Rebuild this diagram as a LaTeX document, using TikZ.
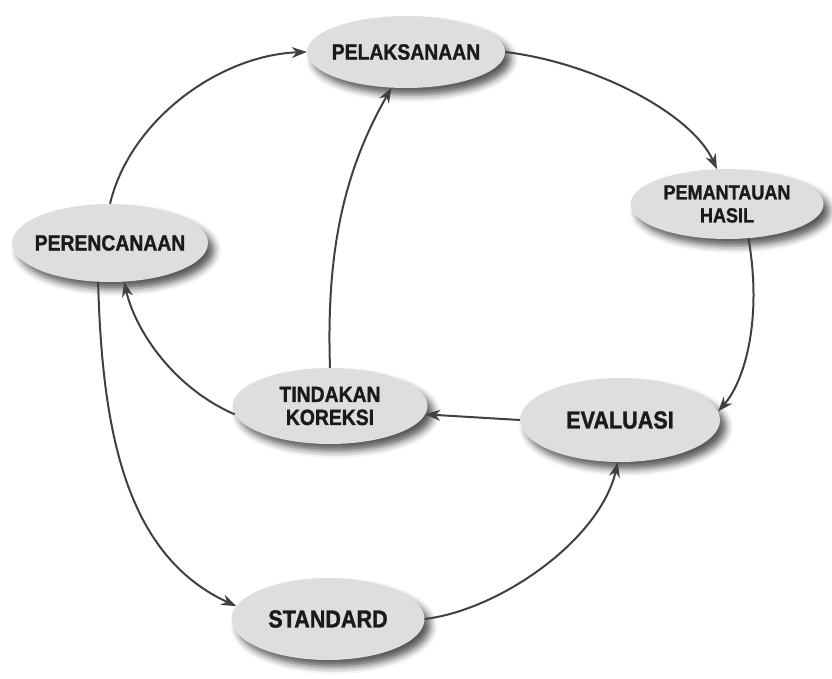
\documentclass[tikz,border=0pt]{standalone}
\usepackage{fontspec}
\setmainfont{Liberation Sans}
\newfontfamily\lblfont[FakeStretch=0.88,FakeBold=1.3]{Liberation Sans Bold}
\usetikzlibrary{shapes.geometric,arrows.meta,shadows.blur}
\definecolor{nodefill}{HTML}{DEDEDE}
\definecolor{edgecol}{HTML}{404040}
\definecolor{txtcol}{HTML}{1A1A1A}
\begin{document}
\begin{tikzpicture}[x=1pt,y=-1pt,
  blob/.style={ellipse, fill=nodefill, draw=none, inner sep=0pt,
    blur shadow={shadow xshift=6pt, shadow yshift=-7pt, shadow blur radius=7pt, shadow opacity=65}},
  lbl/.style={text=txtcol, align=center, inner sep=0pt, font=\lblfont\fontsize{22}{23}\selectfont},
  lblsmall/.style={lbl, font=\lblfont\fontsize{20.5}{23}\selectfont},
  lblbig/.style={lbl, font=\lblfont\fontsize{24.5}{26}\selectfont},
  conn/.style={draw=edgecol, line width=2pt, -{Stealth[length=15pt,width=11pt]}}]
\useasboundingbox (0,0) rectangle (832,679);

\node[blob, minimum width=198pt, minimum height=72pt,
  label={[lbl]center:PELAKSANAAN}] (pel) at (406,52) {};
\node[blob, minimum width=193pt, minimum height=70pt,
  label={[lblsmall]center:PEMANTAUAN\\HASIL}] (pem) at (727,204) {};
\node[blob, minimum width=196pt, minimum height=78pt,
  label={[lbl]center:PERENCANAAN}] (per) at (110,243) {};
\node[blob, minimum width=195pt, minimum height=76pt,
  label={[lbl]center:TINDAKAN\\KOREKSI}] (tin) at (330,406) {};
\node[blob, minimum width=200pt, minimum height=84pt,
  label={[lblbig]center:EVALUASI}] (eva) at (620,420) {};
\node[blob, minimum width=193pt, minimum height=82pt,
  label={[lblbig]center:STANDARD}] (sta) at (328,619) {};

\draw[conn] (per.north) .. controls +(20,-84) and +(-87,3) .. (pel.west);
\draw[conn] (pel.east) .. controls +(85,10) and +(-27,-58) .. (pem.106);
\draw[conn] (pem.-58) .. controls +(14,80) and +(27,-31) .. (eva.5);
\draw[conn] (eva.180) -- (tin.-5);
\draw[conn] (tin.185) .. controls +(-62,-27) and +(11,48) .. (per.-70);
\draw[conn] (tin.north) .. controls +(-4,-118) and +(-47,82) .. (pel.-112);
\draw[conn] (per.-107) .. controls +(4,148) and +(-111,-51) .. (sta.172);
\draw[conn] (sta.east) .. controls +(75,-9) and +(-18,78) .. (eva.-93);
\end{tikzpicture}
\end{document}
